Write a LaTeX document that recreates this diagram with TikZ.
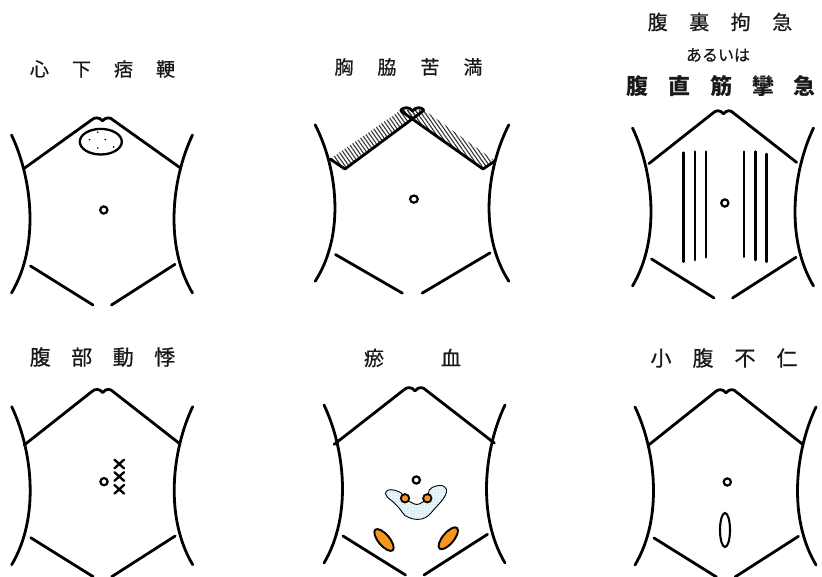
\documentclass[tikz,border=0pt]{standalone}
\usepackage{fontspec}
\newfontfamily\jp[FakeBold=0.7]{Noto Sans CJK JP}
\newfontfamily\jpheavy{Noto Sans CJK JP}
\usetikzlibrary{patterns,patterns.meta}
\newcommand{\kg}[1]{\hspace{#1}}
\definecolor{bruise}{RGB}{246,150,30}
\definecolor{bloodpool}{RGB}{232,245,249}
\definecolor{blooddot}{RGB}{140,195,215}

\tikzset{
  body/.style={line width=2.8pt, line cap=round, line join=round},
  navel/.style={line width=2.2pt},
  crossmark/.style={line width=2.3pt, line cap=round},
  title/.style={inner sep=0pt, text=black!90},
  hatch/.style={pattern={Lines[angle=-55,distance=3.2pt,line width=1.1pt]}, pattern color=black!80},
  % sides, lower lines and navel of the abdomen outline
  pics/torsobase/.style={code={
    \draw[body] (-90.5,15) .. controls (-70,58) and (-62,125) .. (-90.5,173);
    \draw[body] (90.5,15) .. controls (70,58) and (62,125) .. (90.5,173);
    \draw[body] (-71.5,146) -- (-9,185);
    \draw[body] (9.5,185) -- (73,144.3);
    \draw[navel] (1.8,90) circle[radius=3.6];
  }},
  % xiphoid notch alone
  pics/notch/.style={code={
    \draw[body] (-10.5,0) .. controls (-7.5,-3) and (-3,-3.5) .. (0.5,0.8)
                .. controls (4,-3.5) and (8.5,-3) .. (11,0);
  }},
  % full outline with costal arches
  pics/torso/.style={code={
    \pic {torsobase};
    \draw[body] (-78,53.3) -- (-10.5,0) .. controls (-7.5,-3) and (-3,-3.5) .. (0.5,0.8)
                .. controls (4,-3.5) and (8.5,-3) .. (11,0) -- (77.5,52);
  }},
}

\begin{document}
\begin{tikzpicture}[x=1pt,y=-1pt]
\useasboundingbox (0,0) rectangle (822,577);

% ---------- titles ----------
\node[title, font=\jp\fontsize{19}{22}\selectfont] (t1) at (102.5,69) {心\kg{23pt}下\kg{23pt}痞\kg{23pt}鞕};
\node[title, font=\jp\fontsize{19}{22}\selectfont] (t2) at (408.5,67) {胸\kg{24pt}脇\kg{24pt}苦\kg{24pt}満};
\node[title, font=\jp\fontsize{20}{23}\selectfont] (t3) at (720,22) {腹\kg{21.5pt}裏\kg{21.5pt}拘\kg{21.5pt}急};
\node[title, font=\jp\fontsize{16}{19}\selectfont] (t3b) at (718,55) {あるいは};
\node[title, font=\jpheavy\bfseries\fontsize{22}{25}\selectfont] (t3c) at (721,86) {腹\kg{20pt}直\kg{20pt}筋\kg{20pt}攣\kg{20pt}急};
\node[title, font=\jp\fontsize{21}{24}\selectfont] (t4) at (102.5,357) {腹\kg{20.5pt}部\kg{20.5pt}動\kg{20.5pt}悸};
\node[title, font=\jp\fontsize{20}{23}\selectfont] (t5) at (412.5,358) {瘀\kg{57pt}血};
\node[title, font=\jp\fontsize{21}{24}\selectfont] (t6) at (724,358) {小\kg{21pt}腹\kg{21pt}不\kg{21pt}仁};

% ---------- 1: epigastric fullness ----------
\pic[yscale=0.91] (T1) at (102,120) {torso};
\draw[line width=2.3pt] (100.8,141.7) ellipse[x radius=21pt, y radius=12.8pt];
\foreach \p in {(97.7,132.3),(113.6,132.3),(89.6,139.6),(105.3,139.6),(97.7,148),(113.6,147)}
  \fill \p circle[radius=0.9pt];

% ---------- 2: hypochondriac fullness ----------
\pic[xscale=1.07,yscale=0.99] (T2) at (412,110) {torsobase};
\fill[hatch] (330,159) -- (401,110) -- (423,110) -- (345,169) -- cycle;
\fill[hatch] (401,110) -- (424,110) -- (495,161) -- (483,169) -- cycle;
\draw[body] (330,159) -- (345,169) -- (423,111);
\draw[body] (495,161) -- (483,169) -- (401,111);
\pic[xscale=1.07,yscale=0.99] (N2) at (412,110) {notch};

% ---------- 3: rectus abdominis tension ----------
\pic[xscale=0.95,yscale=0.95] (T3) at (723,113) {torso};
\draw[body] (683.3,152.7) -- (683.3,261.7);
\draw[body] (695,151.7) -- (695,260);
\draw[body] (706,151.7) -- (706,257.3);
\draw[body] (744,151.7) -- (744,256.7);
\draw[body] (755.3,151.7) -- (755.3,260);
\draw[body] (766.7,154) -- (766.7,261.7);

% ---------- 4: abdominal pulsation ----------
\pic (T4) at (102.2,391.7) {torso};
\foreach \yy in {464,476.5,489.3}
  \draw[crossmark] (114.5,\yy-4.3) -- (124,\yy+4.3) (114.5,\yy+4.3) -- (124,\yy-4.3);

% ---------- 5: blood stasis ----------
\pic[xscale=1.03,yscale=1.02] (T5) at (414.5,390) {torso};
\draw[line width=0.9pt, preaction={fill=bloodpool}, pattern=dots, pattern color=blooddot]
  plot[smooth cycle, tension=0.55] coordinates {
    (405,498.3) (401.7,493.3) (395,490.3) (388.3,490) (385.5,493.3) (388,497.8)
    (393.3,502) (399.5,508.5) (405,515.5) (413.3,519) (421.7,519) (428.5,515.5)
    (435,508.3) (441,501.7) (445.5,495) (446.5,489.3) (442,485.5) (435,486.3)
    (429.3,490) (427.3,498.3) (416.7,504.5)};
\draw[line width=1.8pt, fill=bruise] (405,498.3) circle[radius=4.2pt];
\draw[line width=1.8pt, fill=bruise] (427.3,498.3) circle[radius=4.2pt];
\draw[line width=1.9pt, fill=bruise, rotate around={-50:(384,540)}] (384,540) ellipse[x radius=13.5pt, y radius=5.6pt];
\draw[line width=1.9pt, fill=bruise, rotate around={50:(448.3,538.3)}] (448.3,538.3) ellipse[x radius=13.5pt, y radius=5.6pt];

% ---------- 6: lower abdominal numbness ----------
\pic[xscale=0.99] (T6) at (725.5,392) {torso};
\draw[line width=2.1pt] (725,530) ellipse[x radius=5pt, y radius=17pt];

\end{tikzpicture}
\end{document}
